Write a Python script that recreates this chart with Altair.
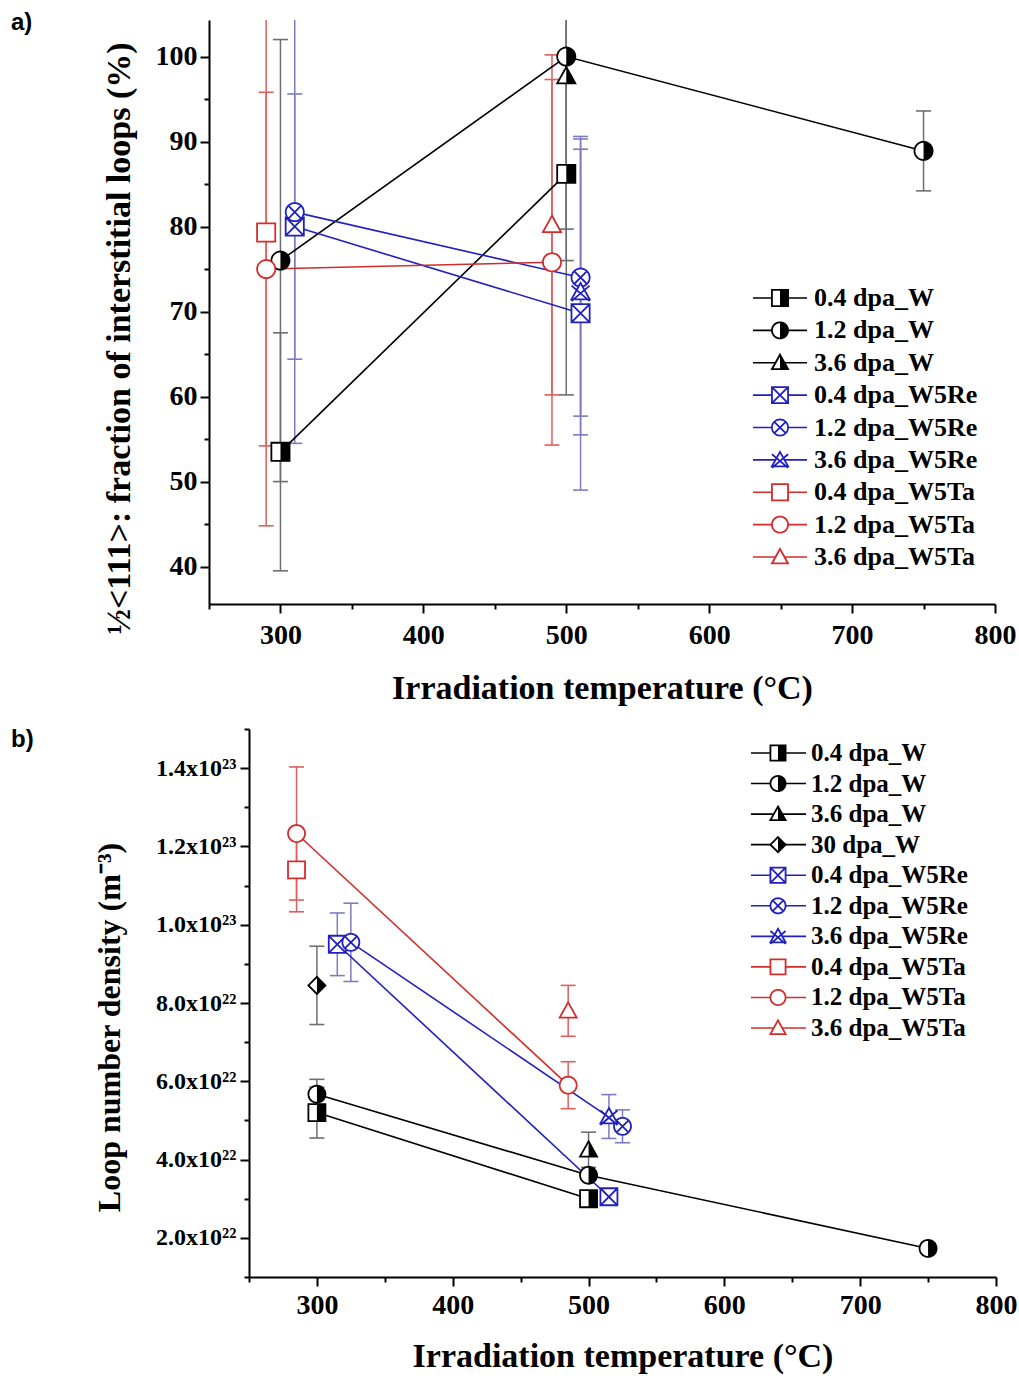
import math
import altair as alt
import pandas as pd

# ---------------- Panel a data: 1/2<111> fraction (%) ----------------
a_series = ["0.4 dpa_W", "0.4 dpa_W", "1.2 dpa_W", "1.2 dpa_W", "1.2 dpa_W", "3.6 dpa_W",
            "0.4 dpa_W5Re", "0.4 dpa_W5Re", "1.2 dpa_W5Re", "1.2 dpa_W5Re", "3.6 dpa_W5Re",
            "0.4 dpa_W5Ta", "1.2 dpa_W5Ta", "1.2 dpa_W5Ta", "3.6 dpa_W5Ta"]
a_temp = [300, 500, 300, 500, 750, 500, 310, 510, 310, 510, 510, 290, 290, 490, 490]
a_value = [53.5, 86.2, 76.0, 100.0, 88.9, 97.7, 80.0, 69.8, 81.7, 74.0, 72.3, 79.3, 75.0, 75.8, 80.2]
a_err = [14.0, 26.0, 26.0, 24.0, 4.7, 18.0, 15.6, 20.8, 27.2, 16.3, 16.8, 34.5, 20.8, 21.5, 20.0]
a_legend = ["0.4 dpa_W", "1.2 dpa_W", "3.6 dpa_W", "0.4 dpa_W5Re", "1.2 dpa_W5Re",
            "3.6 dpa_W5Re", "0.4 dpa_W5Ta", "1.2 dpa_W5Ta", "3.6 dpa_W5Ta"]

# ---------------- Panel b data: loop number density (m^-3) ----------------
b_series = ["0.4 dpa_W", "0.4 dpa_W", "1.2 dpa_W", "1.2 dpa_W", "1.2 dpa_W", "3.6 dpa_W", "30 dpa_W",
            "0.4 dpa_W5Re", "0.4 dpa_W5Re", "1.2 dpa_W5Re", "1.2 dpa_W5Re", "3.6 dpa_W5Re",
            "0.4 dpa_W5Ta", "1.2 dpa_W5Ta", "1.2 dpa_W5Ta", "3.6 dpa_W5Ta"]
b_temp = [300, 500, 300, 500, 750, 500, 300, 315, 515, 325, 525, 515, 285, 285, 485, 485]
b_value = [5.2e22, 3.0e22, 5.67e22, 3.6e22, 1.73e22, 4.25e22, 8.45e22, 9.5e22, 3.05e22,
           9.55e22, 4.85e22, 5.1e22, 11.4e22, 12.33e22, 5.9e22, 7.8e22]
b_err = [0.65e22, 0.12e22, 0.38e22, 0.12e22, 0.08e22, 0.45e22, 1.0e22, 0.8e22, 0.08e22,
         1.0e22, 0.42e22, 0.56e22, 1.07e22, 1.7e22, 0.6e22, 0.65e22]
b_legend = ["0.4 dpa_W", "1.2 dpa_W", "3.6 dpa_W", "30 dpa_W", "0.4 dpa_W5Re", "1.2 dpa_W5Re",
            "3.6 dpa_W5Re", "0.4 dpa_W5Ta", "1.2 dpa_W5Ta", "3.6 dpa_W5Ta"]

# ---------------- styles ----------------
SERIF = "Liberation Serif"
LINE_COLOR = {"W": "#000000", "W5Re": "#2020c0", "W5Ta": "#d22c2c"}
ERR_COLOR = {"W": "#6e6e6e", "W5Re": "#7c7cc2", "W5Ta": "#de5e5e"}


def poly(a0, a1, n):
    pts = []
    for k in range(n + 1):
        t = math.radians(a0 + (a1 - a0) * k / n)
        pts.append("%.3f,%.3f" % (math.cos(t), math.sin(t)))
    return pts


SQ = "M-1,-1L1,-1L1,1L-1,1Z"
CI = "M" + "L".join(poly(0, 360, 36)) + "Z"
TR = "M0,-1L1,0.8L-1,0.8Z"
DI = "M0,-1L1,0L0,1L-1,0Z"
X_SQ = "M-1,-1L1,1M1,-1L-1,1"
X_CI = "M-0.707,-0.707L0.707,0.707M0.707,-0.707L-0.707,0.707"
X_TR = "M-1,-0.7L1,1M1,-0.7L-1,1"
OUTLINE = {"0.4": SQ, "1.2": CI, "3.6": TR, "30": DI}
CROSS = {"0.4": X_SQ, "1.2": X_CI, "3.6": X_TR}
HALF = {"0.4": "M0,-1L1,-1L1,1L0,1Z", "1.2": "M" + "L".join(poly(-90, 90, 18)) + "Z",
        "3.6": "M0,-1L1,0.8L0,0.8Z", "30": "M0,-1L1,0L0,1Z"}


def style_of(name):
    dose, fam = name.split(" dpa_")
    shape = OUTLINE[dose] + (CROSS[dose] if fam == "W5Re" else "")
    half = HALF[dose] if fam == "W" else ""
    return dict(lcolor=LINE_COLOR[fam], ecolor=ERR_COLOR[fam], shape=shape, half=half)


def frame(series, temp, value, err, ydom):
    rows = []
    for s, t, v, e in zip(series, temp, value, err):
        lo, hi = v - e, v + e
        r = dict(series=s, temp=t, value=v, lo=lo, hi=hi,
                 lo_c=max(lo, ydom[0]), hi_c=min(hi, ydom[1]))
        r.update(style_of(s))
        rows.append(r)
    return pd.DataFrame(rows)


AX = dict(domainColor="black", domainWidth=2, tickColor="black", tickWidth=2,
          labelFont=SERIF, labelFontWeight="bold", labelColor="black",
          titleFont=SERIF, titleFontWeight="bold", titleColor="black",
          grid=False, labelOverlap=False, labelFlush=False)


def panel(df, legend_names, ydom, yvals, ymajor_test, ylabel_expr, ytitle, ylab_size,
          ylab_pad, ytitle_size, ytitle_pad, ytitle_y, y_offset, xrange, xlab_pad, xtitle_pad,
          width, height, msize, leg_line, leg_marker_x, leg_text_x, leg_range, leg_size,
          leg_font, tag, tag_x, tag_y, xtitle):
    xaxis = alt.Axis(values=list(range(250, 801, 50)),
                     labelExpr="datum.value % 100 === 0 ? datum.label : ''",
                     tickSize={"condition": {"test": "datum.value % 100 !== 0", "value": 5}, "value": 9},
                     labelFontSize=28, titleFontSize=34, labelPadding=xlab_pad,
                     titlePadding=xtitle_pad,
                     titleX=(xrange[0] + xrange[1]) / 2, title=xtitle, **AX)
    yaxis = alt.Axis(values=yvals, labelExpr=ylabel_expr,
                     tickSize={"condition": {"test": "!(" + ymajor_test + ")", "value": 5}, "value": 9},
                     labelFontSize=ylab_size, titleFontSize=ytitle_size, labelPadding=ylab_pad,
                     titlePadding=ytitle_pad, titleY=ytitle_y, offset=y_offset,
                     title=ytitle, **AX)
    xs = alt.Scale(domain=[250, 800], range=xrange, nice=False, zero=False)
    ys = alt.Scale(domain=ydom, nice=False, zero=False)

    def X(f):
        return alt.X(f, scale=xs, axis=xaxis)

    def Y(f):
        return alt.Y(f, scale=ys, axis=yaxis)

    base = alt.Chart(df)
    caps = pd.concat([df.assign(cap=df["lo"]), df.assign(cap=df["hi"])], ignore_index=True)
    caps = caps[(caps["cap"] >= ydom[0]) & (caps["cap"] <= ydom[1])]

    err = base.mark_rule(clip=True, strokeWidth=1.5).encode(
        x=X("temp:Q"), y=Y("lo_c:Q"), y2="hi_c:Q", color=alt.Color("ecolor:N", scale=None))
    cap = alt.Chart(caps).mark_tick(orient="horizontal", clip=True, size=15, thickness=1.6,
                                     opacity=1).encode(
        x=X("temp:Q"), y=Y("cap:Q"), color=alt.Color("ecolor:N", scale=None))
    lines = base.mark_line(strokeWidth=1.6).encode(
        x=X("temp:Q"), y=Y("value:Q"), color=alt.Color("lcolor:N", scale=None),
        detail="series:N")
    pts = base.mark_point(filled=True, fill="white", opacity=1, strokeWidth=1.8, size=msize).encode(
        x=X("temp:Q"), y=Y("value:Q"), shape=alt.Shape("shape:N", scale=None),
        stroke=alt.Stroke("lcolor:N", scale=None))
    halves = base.transform_filter("datum.half != ''").mark_point(
        filled=True, fill="black", opacity=1, strokeWidth=0, size=msize).encode(
        x=X("temp:Q"), y=Y("value:Q"), shape=alt.Shape("half:N", scale=None))
    tagc = alt.Chart(pd.DataFrame({"t": [tag]})).mark_text(
        font="Liberation Sans", fontWeight="bold", fontSize=24, align="left", baseline="top",
        color="black").encode(x=alt.value(tag_x), y=alt.value(tag_y), text="t:N")

    data_layer = alt.layer(err, cap, lines, pts, halves, tagc)

    lg = pd.DataFrame([dict(i=k, series=n, **style_of(n)) for k, n in enumerate(legend_names)])
    ly = alt.Y("i:O", scale=alt.Scale(type="point", domain=list(range(len(legend_names))),
                                      range=leg_range, padding=0), axis=None)
    lbase = alt.Chart(lg)
    lrule = lbase.mark_rule(strokeWidth=1.6).encode(
        x=alt.value(leg_line[0]), x2=alt.value(leg_line[1]), y=ly,
        color=alt.Color("lcolor:N", scale=None))
    lpts = lbase.mark_point(filled=True, fill="white", opacity=1, strokeWidth=1.8,
                            size=leg_size).encode(
        x=alt.value(leg_marker_x), y=ly, shape=alt.Shape("shape:N", scale=None),
        stroke=alt.Stroke("lcolor:N", scale=None))
    lhalf = lbase.transform_filter("datum.half != ''").mark_point(
        filled=True, fill="black", opacity=1, strokeWidth=0, size=leg_size).encode(
        x=alt.value(leg_marker_x), y=ly, shape=alt.Shape("half:N", scale=None))
    ltext = lbase.mark_text(font=SERIF, fontWeight="bold", fontSize=leg_font, align="left",
                            baseline="middle", color="black").encode(
        x=alt.value(leg_text_x), y=ly, text="series:N")
    legend_layer = alt.layer(lrule, lpts, lhalf, ltext)

    return alt.layer(data_layer, legend_layer).resolve_scale(y="independent").properties(
        width=width, height=height)


A_YDOM = [35.6, 104.3]
B_YDOM = [1.0e22, 1.5e23]
dfa = frame(a_series, a_temp, a_value, a_err, A_YDOM)
dfb = frame(b_series, b_temp, b_value, b_err, B_YDOM)

pa = panel(dfa, a_legend, ydom=A_YDOM, yvals=list(range(40, 101, 5)),
           ymajor_test="datum.value % 10 === 0",
           ylabel_expr="datum.value % 10 === 0 ? datum.label : ''",
           ytitle="½<111>: fraction of interstitial loops (%)", ylab_size=28, ylab_pad=3,
           ytitle_size=34, ytitle_pad=19, ytitle_y=318, y_offset=0, xrange=[0, 786],
           xlab_pad=8, xtitle_pad=22,
           width=786, height=584, msize=330,
           leg_line=[544, 598], leg_marker_x=571, leg_text_x=605, leg_range=[278, 537],
           leg_size=260, leg_font=26, tag="a)", tag_x=-198, tag_y=-9,
           xtitle="Irradiation temperature  (°C)")

pb = panel(dfb, b_legend, ydom=B_YDOM, yvals=[k * 1e22 for k in range(1, 16)],
           ymajor_test="round(datum.value / 1e22) % 2 === 0",
           ylabel_expr="round(datum.value / 1e22) % 2 !== 0 ? '' : "
                       "(datum.value >= 9.9e22 ? format(datum.value / 1e23, '.1f') + 'x10²³' "
                       ": format(datum.value / 1e22, '.1f') + 'x10²²')",
           ytitle="Loop number density (m⁻³)", ylab_size=24, ylab_pad=4,
           ytitle_size=32, ytitle_pad=29, ytitle_y=298, y_offset=-40, xrange=[40, 787],
           xlab_pad=5, xtitle_pad=20,
           width=787, height=548, msize=290,
           leg_line=[542, 597], leg_marker_x=569, leg_text_x=602, leg_range=[24, 299],
           leg_size=230, leg_font=25, tag="b)", tag_x=-198, tag_y=-1,
           xtitle="Irradiation temperature (°C)")

chart = alt.vconcat(pa, pb, spacing=125, bounds="flush").configure_view(
    stroke="transparent").properties(padding={"left": 10, "top": 10, "right": 0, "bottom": 0})

chart.save("out.html", embed_options={"renderer": "svg", "actions": False})
